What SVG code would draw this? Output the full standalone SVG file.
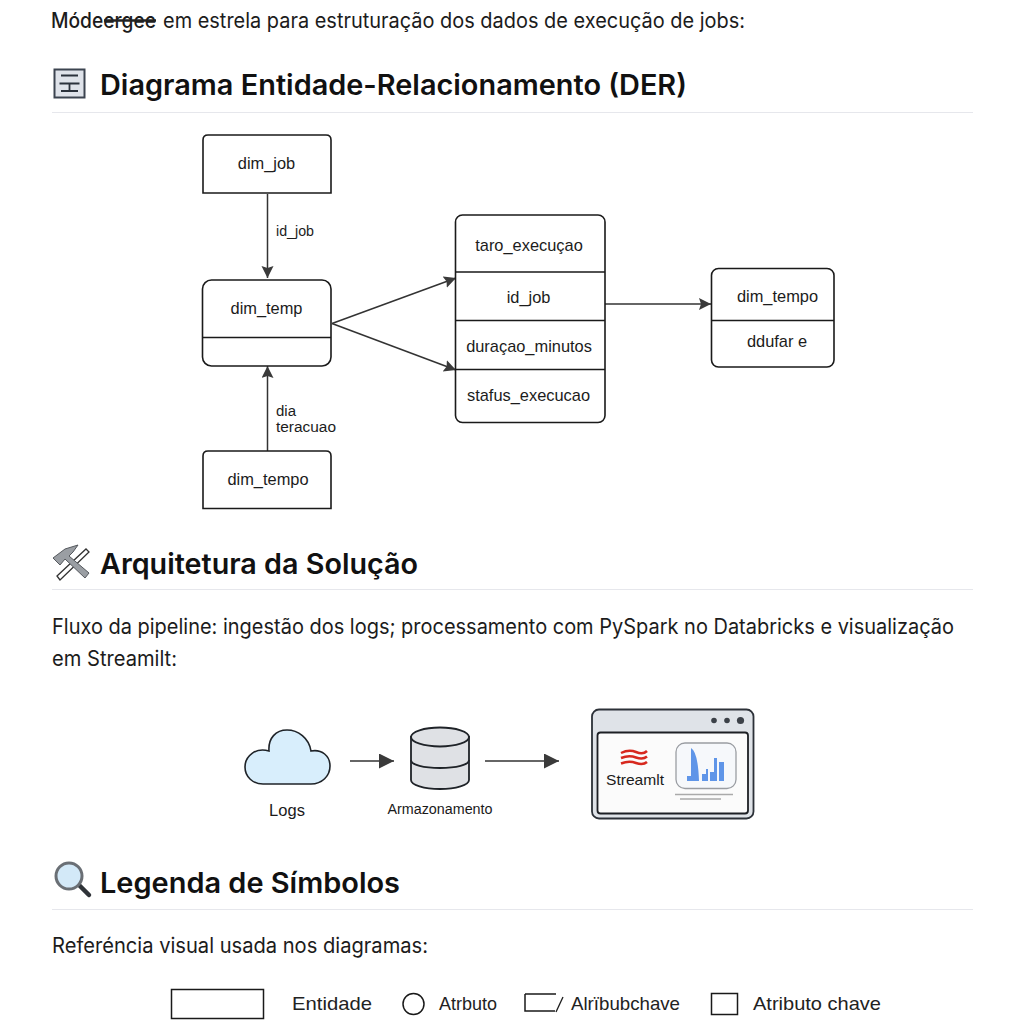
<svg xmlns="http://www.w3.org/2000/svg" width="1024" height="1024" viewBox="0 0 1024 1024">
<style>
text{font-family:"Inter","Liberation Sans",sans-serif;fill:#1a1a1a}
.h{font-size:28px;font-weight:600;fill:#111}
.p{font-size:21px;fill:#1c1c1c}
.n{font-family:"Liberation Sans",sans-serif;font-size:16.400px;text-anchor:middle;fill:#1c1c1c}
.l{font-family:"Liberation Sans",sans-serif;font-size:14px;fill:#1c1c1c}
.g{font-family:"Liberation Sans",sans-serif;font-size:19px;fill:#222}
.b{fill:#fff;stroke:#1a1a1a;stroke-width:1.6}
.d{stroke:#1a1a1a;stroke-width:1.3;fill:none}
.r{stroke:#e6e7ec;stroke-width:1;fill:none}
.c{stroke:#333;stroke-width:1.5;fill:none}
</style>
<defs>
<marker id="a" markerUnits="userSpaceOnUse" markerWidth="14" markerHeight="14" refX="12" refY="6" orient="auto"><path d="M0 0L12 6L0 12L2 6Z" fill="#3a3a3a"/></marker>
<marker id="a2" markerUnits="userSpaceOnUse" markerWidth="18" markerHeight="18" refX="15" refY="7.500" orient="auto"><path d="M0 0L15 7.500L0 15Z" fill="#3a3a3a"/></marker>
</defs>
<rect width="1024" height="1024" fill="#fff"/>

<g id="intro">
<text class="p" x="51" y="28" textLength="105" lengthAdjust="spacingAndGlyphs" style="font-weight:500">Módeergee</text>
<path d="M104 20.500H156" stroke="#222" stroke-width="2.400"/>
<text class="p" x="163" y="28" textLength="582" lengthAdjust="spacingAndGlyphs">em estrela para estruturação dos dados de execução de jobs:</text>
</g>

<g id="heading-der">
<rect x="54.500" y="69.500" width="30" height="28" fill="#dfe3ea" stroke="#3c4450" stroke-width="2"/>
<path d="M61 75.500H78M61 91H78M59.500 83.500H79.500M69.500 83.500V91" stroke="#2b323c" stroke-width="1.800" fill="none"/>
<text class="h" x="100" y="95" textLength="587" lengthAdjust="spacingAndGlyphs">Diagrama Entidade-Relacionamento (DER)</text>
<path class="r" d="M52 112.500H973"/>
</g>

<g id="connectors">
<path class="c" d="M267.500 194V278" marker-end="url(#a)"/>
<path class="c" d="M267.500 451V366" marker-end="url(#a)"/>
<path class="c" d="M332 323.500L456 278" marker-end="url(#a)"/>
<path class="c" d="M332 323.500L456 370" marker-end="url(#a)"/>
<path class="c" d="M605 304H711" stroke-width="1.800" marker-end="url(#a)"/>
<path class="c" d="M350 761H394" stroke-width="1.800" marker-end="url(#a2)"/>
<path class="c" d="M485 761H559" stroke-width="1.800" marker-end="url(#a2)"/>
</g>
<g id="edge-labels">
<text class="l" x="276" y="236" textLength="38" lengthAdjust="spacingAndGlyphs">id_job</text>
<text class="l" x="276" y="416" textLength="20" lengthAdjust="spacingAndGlyphs">dia</text>
<text class="l" x="276" y="432" textLength="60" lengthAdjust="spacingAndGlyphs">teracuao</text>
</g>

<g id="dim_job">
<path class="b" d="M203 193V140Q203 135 208 135H326Q331 135 331 140V193Z"/>
<text class="n" x="266.500" y="169">dim_job</text>
</g>
<g id="dim_temp">
<rect class="b" x="202.500" y="280" width="128.500" height="86" rx="9"/>
<path class="d" d="M202.500 337.500H331"/>
<text class="n" x="266.500" y="314">dim_temp</text>
</g>
<g id="dim_tempo_bottom">
<path class="b" d="M203 508.500V456Q203 451 208 451H326Q331 451 331 456V508.500Z"/>
<text class="n" x="268" y="485">dim_tempo</text>
</g>
<g id="fato_execucao">
<rect class="b" x="455.500" y="215" width="149.500" height="207.500" rx="7"/>
<path class="d" d="M455.500 272H605M455.500 320.500H605"/>
<path class="d" stroke-width="1.800" d="M455.500 369.500H605"/>
<text class="n" x="529" y="251">taro_execuçao</text>
<text class="n" x="528.500" y="303">id_job</text>
<text class="n" x="529" y="352">duraçao_minutos</text>
<text class="n" x="528.500" y="401">stafus_execucao</text>
</g>
<g id="dim_tempo_right">
<rect class="b" x="711.500" y="268.500" width="122.500" height="98.500" rx="7"/>
<path class="d" d="M711.500 320.500H834"/>
<text class="n" x="777.500" y="302">dim_tempo</text>
<text class="n" x="777" y="347">ddufar e</text>
</g>

<g id="heading-arq">
<path d="M57 576L86 549L89 552L60 580Z" fill="#fff" stroke="#333" stroke-width="1.300"/>
<path d="M53 558L65 549L78 545L73 552L69 556L89 573L85 578L65 559L60 565Z" fill="#9a9ea3" stroke="#55595e" stroke-width="1"/>
<text class="h" x="100" y="574" textLength="318" lengthAdjust="spacingAndGlyphs">Arquitetura da Solução</text>
<path class="r" d="M52 589.500H973"/>
<text class="p" x="52" y="634" textLength="902" lengthAdjust="spacingAndGlyphs">Fluxo da pipeline: ingestão dos logs; processamento com PySpark no Databricks e visualização</text>
<text class="p" x="52" y="666" textLength="125" lengthAdjust="spacingAndGlyphs">em Streamilt:</text>
</g>

<g id="logs">
<path d="M263 784H311C322 784 330 776 330 766C330 756 322 749 311 751C309 738 298 730 287 730C276 730 268 738 269 751C256 747 245 756 245 767C245 777 253 784 263 784Z" fill="#d8eefc" stroke="#1f2328" stroke-width="1.600"/>
<text x="287" y="816" text-anchor="middle" style="font-family:'Liberation Sans',sans-serif;font-size:16.500px">Logs</text>
</g>
<g id="armazenamento">
<path d="M411 737V780C411 785 424 789 440 789C456 789 469 785 469 780V737Z" fill="#dfe1e5" stroke="#1f2328" stroke-width="1.800"/>
<ellipse cx="440" cy="737" rx="29" ry="9.500" fill="#dfe1e5" stroke="#1f2328" stroke-width="1.800"/>
<path d="M411 760C411 765 424 768 440 768C456 768 469 765 469 760" fill="none" stroke="#1f2328" stroke-width="1.800"/>
<text x="440" y="814" text-anchor="middle" textLength="105" lengthAdjust="spacingAndGlyphs" style="font-family:'Liberation Sans',sans-serif;font-size:14px">Armazonamento</text>
</g>
<g id="streamlit">
<rect x="592" y="709.500" width="161.500" height="109" rx="7" fill="#dfe3e8" stroke="#2c3138" stroke-width="1.800"/>
<rect x="597.500" y="732.500" width="150.500" height="81" rx="3" fill="#fbfbfb" stroke="#1c1f24" stroke-width="1.800"/>
<circle cx="714" cy="720.500" r="2.800" fill="#3c4148"/><circle cx="727" cy="720.500" r="2.800" fill="#3c4148"/><circle cx="740.500" cy="720.500" r="3.600" fill="#3c4148"/>
<path d="M621 753Q629 749 636 752T647 751M621 758Q629 755 636 757.500T647 756.500M621 763.500Q629 760.500 636 763T647 762" fill="none" stroke="#d7281e" stroke-width="2.500"/>
<text x="635" y="785" text-anchor="middle" textLength="58" lengthAdjust="spacingAndGlyphs" style="font-family:'Liberation Sans',sans-serif;font-size:15px">Streamlt</text>
<rect x="676" y="743" width="60" height="45.500" rx="9" fill="#f6f8fb" stroke="#9a9da2" stroke-width="1.300"/>
<path d="M687 781V776H691V748Q698 752 699 781ZM702 781V774H706V769H708V781ZM710 781V772H714V758H717V781ZM719 781V762H724V781Z" fill="#5f95e8"/>
<path d="M675 794.500H733" stroke="#aaa" stroke-width="1.500"/>
<path d="M680 799H721" stroke="#aaa" stroke-width="1.500"/>
</g>

<g id="heading-legenda">
<path d="M79 885L89 895" stroke="#2f3338" stroke-width="4.500" stroke-linecap="round"/>
<circle cx="69" cy="876" r="13" fill="#d3e9f8" stroke="#6a6f75" stroke-width="3"/>
<text class="h" x="100" y="893" textLength="300" lengthAdjust="spacingAndGlyphs">Legenda de Símbolos</text>
<path class="r" d="M52 909.500H973"/>
<text class="p" x="52" y="953" textLength="376" lengthAdjust="spacingAndGlyphs">Referéncia visual usada nos diagramas:</text>
</g>

<g id="legend">
<rect x="171.500" y="989.500" width="92" height="29" fill="#fff" stroke="#1a1a1a" stroke-width="1.500"/>
<text class="g" x="292" y="1010" textLength="80" lengthAdjust="spacingAndGlyphs">Entidade</text>
<circle cx="413.500" cy="1004" r="10.500" fill="#fff" stroke="#1a1a1a" stroke-width="1.500"/>
<text class="g" x="439" y="1010" textLength="58" lengthAdjust="spacingAndGlyphs">Atrbuto</text>
<path d="M525 994H556M525 994V1011H555" fill="none" stroke="#1a1a1a" stroke-width="1.500"/>
<path d="M556 1012L563 997" stroke="#1a1a1a" stroke-width="1.300"/>
<text class="g" x="571" y="1010" textLength="109" lengthAdjust="spacingAndGlyphs">Alrïbubchave</text>
<rect x="711.500" y="993.500" width="26" height="21" fill="#fff" stroke="#1a1a1a" stroke-width="1.500"/>
<text class="g" x="753" y="1010" textLength="128" lengthAdjust="spacingAndGlyphs">Atributo chave</text>
</g>
</svg>
